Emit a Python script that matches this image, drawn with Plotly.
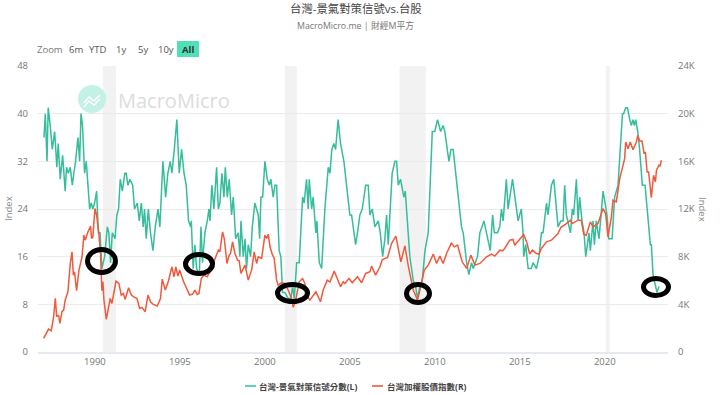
import plotly.graph_objects as go

signal_years = [1987.0,1987.08,1987.18,1987.25,1987.37,1987.49,1987.63,1987.76,1987.84,1987.96,1988.1,1988.25,1988.33,1988.43,1988.55,1988.67,1988.76,1988.86,1989.0,1989.1,1989.18,1989.27,1989.39,1989.49,1989.59,1989.69,1989.78,1989.88,1989.98,1990.1,1990.2,1990.3,1990.41,1990.57,1990.73,1990.82,1990.92,1991.02,1991.18,1991.29,1991.39,1991.49,1991.61,1991.76,1991.84,1991.94,1992.06,1992.22,1992.33,1992.49,1992.61,1992.73,1992.84,1992.92,1993.02,1993.14,1993.27,1993.41,1993.55,1993.71,1993.82,1994.0,1994.16,1994.29,1994.43,1994.53,1994.67,1994.82,1994.96,1995.1,1995.24,1995.37,1995.51,1995.63,1995.67,1995.78,1995.88,1995.98,1996.14,1996.24,1996.33,1996.47,1996.61,1996.71,1996.77,1996.88,1997.0,1997.16,1997.26,1997.35,1997.47,1997.59,1997.67,1997.79,1997.9,1998.04,1998.14,1998.28,1998.43,1998.53,1998.59,1998.73,1998.83,1998.92,1999.02,1999.16,1999.26,1999.41,1999.61,1999.69,1999.77,1999.87,2000.0,2000.14,2000.26,2000.35,2000.49,2000.59,2000.69,2000.84,2000.94,2001.04,2001.18,2001.37,2001.53,2001.63,2001.73,2001.87,2002.02,2002.22,2002.31,2002.45,2002.55,2002.61,2002.75,2002.84,2003.0,2003.06,2003.2,2003.34,2003.53,2003.73,2003.83,2003.94,2004.06,2004.16,2004.31,2004.45,2004.65,2004.76,2004.9,2005.0,2005.1,2005.34,2005.45,2005.59,2005.73,2005.93,2006.08,2006.18,2006.32,2006.47,2006.67,2006.79,2006.93,2007.06,2007.16,2007.26,2007.49,2007.65,2007.75,2007.85,2007.98,2008.18,2008.26,2008.4,2008.53,2008.73,2008.87,2008.98,2009.12,2009.26,2009.42,2009.61,2009.85,2010.0,2010.16,2010.34,2010.49,2010.59,2010.83,2010.95,2011.08,2011.38,2011.57,2011.67,2011.87,2012.0,2012.16,2012.26,2012.51,2012.65,2012.89,2013.04,2013.26,2013.4,2013.5,2013.69,2013.82,2013.92,2014.02,2014.21,2014.31,2014.57,2014.8,2014.9,2015.09,2015.19,2015.23,2015.35,2015.49,2015.68,2015.78,2015.98,2016.13,2016.27,2016.37,2016.57,2016.66,2016.86,2017.0,2017.11,2017.25,2017.41,2017.55,2017.64,2017.74,2017.98,2018.09,2018.17,2018.33,2018.43,2018.52,2018.66,2018.78,2018.88,2019.07,2019.15,2019.31,2019.39,2019.5,2019.66,2019.76,2019.9,2020.02,2020.13,2020.23,2020.43,2020.58,2020.78,2021.04,2021.11,2021.23,2021.33,2021.47,2021.56,2021.66,2021.74,2021.82,2021.94,2022.05,2022.21,2022.37,2022.54,2022.68,2022.74,2022.84,2023.07,2023.19]
signal_values = [36,40,32,41,38,34,37,31,35,29,33,27,31,30,31,28,30,32,36,32,40,38,30,32,28,24,25,24,25,27,20,20,14,16,21,20,15,20,19,23,24,29,27,30,30,28,29,28,24,25,22,25,21,24,19,24,20,17,21,24,21,32,26,30,32,30,34,39,30,34,30,28,22,21,22,14,18,14,13,21,15,20,22,24,22,28,24,31,24,25,30,26,31,26,29,23,26,19,20,16,22,16,19,14,18,16,21,25,23,19,26,26,32,29,28,29,26,28,28,17,16,10,10,9,9,11,9,15,15,26,25,29,24,29,24,26,20,22,15,14,24,31,30,34,35,34,39,35,32,29,26,23,23,18,20,23,24,28,28,23,24,21,22,20,16,19,23,18,30,32,32,28,29,26,27,22,16,12,11,9,11,12,17,20,37,37,39,37,38,37,32,34,34,26,21,20,15,13,15,14,16,20,22,20,17,23,20,20,21,24,22,29,24,29,24,22,24,20,16,18,14,14,15,14,16,20,20,25,23,28,29,26,21,22,22,28,23,20,24,23,29,22,26,22,20,16,20,17,22,18,22,19,23,27,25,23,19,19,26,28,40,40,41,41,39,38,39,38,39,37,34,28,28,23,18,18,13,10,11]

taiex_years = [1986.98,1987.14,1987.27,1987.43,1987.57,1987.67,1987.75,1987.86,1987.94,1988.06,1988.16,1988.25,1988.41,1988.55,1988.65,1988.73,1988.8,1988.92,1989.06,1989.24,1989.35,1989.43,1989.59,1989.75,1989.8,1989.88,1990.0,1990.1,1990.22,1990.33,1990.41,1990.47,1990.53,1990.67,1990.8,1990.9,1991.0,1991.12,1991.24,1991.41,1991.55,1991.67,1991.78,1991.98,1992.14,1992.33,1992.47,1992.63,1992.76,1992.96,1993.12,1993.27,1993.41,1993.67,1993.86,1993.96,1994.14,1994.33,1994.53,1994.65,1994.76,1994.88,1994.98,1995.22,1995.47,1995.57,1995.75,1995.88,1996.02,1996.12,1996.26,1996.41,1996.61,1996.77,1996.96,1997.12,1997.26,1997.35,1997.51,1997.61,1997.77,1997.9,1997.98,1998.1,1998.24,1998.39,1998.49,1998.59,1998.83,1999.02,1999.22,1999.37,1999.51,1999.61,1999.81,2000.0,2000.1,2000.2,2000.3,2000.43,2000.55,2000.69,2000.78,2000.98,2001.18,2001.37,2001.57,2001.67,2001.83,2002.02,2002.22,2002.35,2002.49,2002.65,2002.8,2003.0,2003.14,2003.27,2003.43,2003.67,2003.83,2004.08,2004.26,2004.45,2004.61,2004.71,2004.95,2005.14,2005.45,2005.69,2005.93,2006.18,2006.28,2006.51,2006.77,2006.91,2007.22,2007.45,2007.71,2008.0,2008.24,2008.44,2008.73,2008.98,2009.12,2009.38,2009.61,2009.91,2010.1,2010.3,2010.49,2010.69,2010.98,2011.14,2011.34,2011.61,2011.87,2012.12,2012.36,2012.65,2013.04,2013.34,2013.53,2013.82,2013.98,2014.11,2014.41,2014.6,2014.7,2015.0,2015.23,2015.43,2015.58,2015.74,2015.98,2016.13,2016.27,2016.57,2016.86,2017.25,2017.41,2017.74,2017.98,2018.09,2018.43,2018.62,2018.76,2018.91,2019.15,2019.31,2019.6,2019.9,2020.05,2020.19,2020.39,2020.48,2020.68,2020.88,2021.17,2021.23,2021.37,2021.5,2021.66,2021.86,2021.94,2022.05,2022.19,2022.31,2022.39,2022.49,2022.58,2022.74,2022.87,2022.98,2023.04,2023.19,2023.25,2023.33]
taiex_values = [1145,1564,1927,1788,2960,4497,2960,3100,2402,3380,3519,4357,5055,7429,8407,6452,6731,5139,6871,7988,9804,9385,10083,10558,9524,9664,12038,11479,10083,8267,5139,5893,4357,2737,3800,4497,4078,5195,5949,5754,4776,4916,4413,5390,4776,4580,4497,3659,3743,3380,4776,4217,4022,3854,4497,6117,5195,5977,7150,6312,7150,6368,6871,5893,5055,4776,4860,5195,4832,4916,6173,6452,6312,6731,7429,8128,8547,8407,10083,9524,7429,8128,8267,9245,8267,7709,7653,6592,7290,6033,6871,8407,7429,7988,7848,9804,9524,9887,8826,8211,7848,6033,5614,5809,5754,5195,4497,3743,4497,5893,6173,5754,4637,4357,4637,5055,4637,4217,5195,6033,5893,6787,6173,5474,5893,5754,6173,5809,6312,5809,6592,6731,7206,6452,7150,7764,7932,9106,9720,7569,8910,7206,5195,4357,5195,6871,7290,8211,7429,8044,7429,8267,9161,8826,8966,7569,7011,8128,7290,7429,7988,8211,8044,8547,8491,8687,9385,9441,8966,9524,9860,9106,8211,8547,8267,8211,8687,9245,9385,9943,10446,10781,11060,10781,11060,11060,9887,9804,10921,10502,10781,12038,11619,9664,11340,12736,12597,14552,16228,17624,17065,17624,16982,17624,18182,17708,17708,16647,16786,15110,15110,12960,14831,14272,15250,15669,15585,16088]

x_ticks = [1990,1995,2000,2005,2010,2015,2020]
left_ticks = [0,8,16,24,32,40,48]
right_ticks = [0,4000,8000,12000,16000,20000,24000]
right_labels = ["0","4K","8K","12K","16K","20K","24K"]
recessions = [(1990.47,1991.24),(2001.18,2001.88),(2007.92,2009.47),(2020.06,2020.3)]
range_buttons = [("Zoom",50),("6m",76),("YTD",98),("1y",121),("5y",143),("10y",166)]

W,H = 720,395
L,R,T,B = 38,668,66,352
def px(x): return (x-L)/(R-L)
def py(y): return (B-y)/(B-T)

FONT = "Open Sans, Noto Sans CJK TC, sans-serif"
GREEN, RED = "#36bd9b", "#f0593b"
fig = go.Figure()
fig.add_trace(go.Scatter(x=signal_years,y=signal_values,mode="lines",name="台灣-景氣對策信號分數(L)",
    line=dict(color=GREEN,width=1.5),yaxis="y"))
fig.add_trace(go.Scatter(x=taiex_years,y=taiex_values,mode="lines",name="台灣加權股價指數(R)",
    line=dict(color=RED,width=1.5),yaxis="y2"))

shapes = []
for a,b in recessions:
    shapes.append(dict(type="rect",xref="x",yref="paper",x0=a,x1=b,y0=0,y1=1,fillcolor="#f2f2f2",line_width=0,layer="below"))
# watermark logo
shapes.append(dict(type="circle",xref="paper",yref="paper",x0=px(78),x1=px(106),y0=py(113),y1=py(85),
    fillcolor="#c4f1e5",line_width=0,layer="below"))
for dy in (0,4):
    pts = [(84,103+dy),(89,97+dy),(94,101+dy),(100,95+dy)]
    d = "M"+" L".join(f"{px(a):.4f},{py(b):.4f}" for a,b in pts)
    shapes.append(dict(type="path",xref="paper",yref="paper",path=d,line=dict(color="white",width=1.3),layer="below"))
# All button
shapes.append(dict(type="rect",xref="paper",yref="paper",x0=px(177),x1=px(199),y0=py(57),y1=py(41),
    fillcolor="#4fe0b8",line_width=0))
# hand-drawn ellipses
for x0,x1,y0,y1 in [(85,118,247,275),(183,215,252,276),(275,310,282,304),(404,432,282,305),(641,671,276,298)]:
    shapes.append(dict(type="circle",xref="paper",yref="paper",x0=px(x0+2.5),x1=px(x1-2.5),y0=py(y1-2.5),y1=py(y0+2.5),
        line=dict(color="black",width=5)))
# legend samples
shapes.append(dict(type="line",xref="paper",yref="paper",x0=px(245),x1=px(256),y0=py(386),y1=py(386),line=dict(color="#5fd3b5",width=2)))
shapes.append(dict(type="line",xref="paper",yref="paper",x0=px(372),x1=px(383),y0=py(386),y1=py(386),line=dict(color="#f37a60",width=2)))

def note(text,x,y,size,color,anchor="center",**kw):
    return dict(text=text,xref="paper",yref="paper",x=px(x),y=py(y),xanchor=anchor,yanchor="middle",showarrow=False,
        font=dict(family=FONT,size=size,color=color),**kw)
ann = [note("台灣-景氣對策信號vs.台股",355.5,9,11.4,"#444"),
       note("MacroMicro.me | 財經M平方",355.5,26,8.8,"#777"),
       note("MacroMicro",116,100,20,"#dcdcdc","left"),
       note("<b>All</b>",188,50,9.5,"#333"),
       note("Index",8,209,9.5,"#888",textangle=-90),
       note("Index",703,209,9.5,"#888",textangle=90),
       note("<b>台灣-景氣對策信號分數(L)</b>",257,386,8.5,"#444","left"),
       note("<b>台灣加權股價指數(R)</b>",385,386,8.5,"#444","left")]
for t,x in range_buttons:
    ann.append(note(t,x,50,9.5,"#555" if t!="Zoom" else "#777"))

tick = dict(family=FONT,size=9.5,color="#777")
fig.update_layout(width=W,height=H,autosize=False,showlegend=False,paper_bgcolor="white",plot_bgcolor="rgba(0,0,0,0)",
    margin=dict(l=L,r=W-R,t=T,b=H-B),shapes=shapes,annotations=ann,font=dict(family=FONT),
    xaxis=dict(range=[1986.65,2023.72],tickvals=x_ticks,tickfont=tick,showgrid=False,zeroline=False,
        showline=True,linecolor="#e6e9f2",linewidth=2,ticks="",ticklabelstandoff=0),
    yaxis=dict(range=[0,48],tickvals=left_ticks,tickfont=tick,gridcolor="#ebebeb",gridwidth=1.2,zeroline=False,
        ticklabelstandoff=9),
    yaxis2=dict(range=[0,24000],tickvals=right_ticks,ticktext=right_labels,tickfont=tick,overlaying="y",side="right",
        showgrid=False,zeroline=False,ticklabelstandoff=9))
fig.write_html("out.html",config={"displayModeBar":False},
    post_script="document.body.style.margin='0';document.documentElement.style.overflow='hidden';")
